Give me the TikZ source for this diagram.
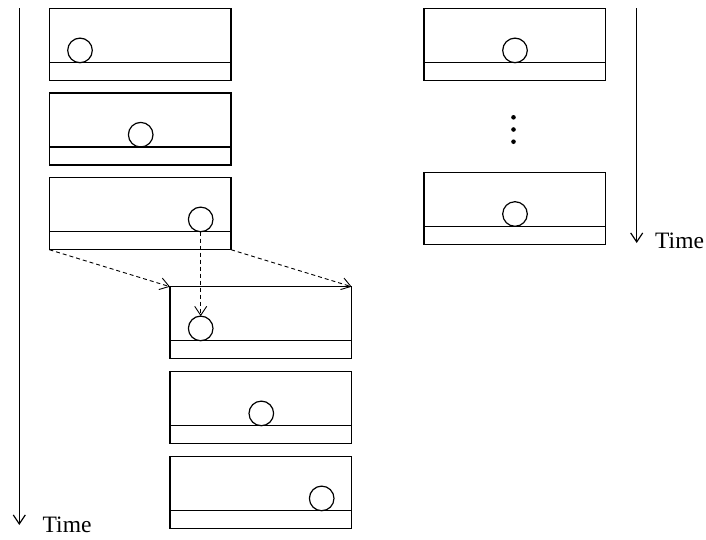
\documentclass[tikz,border=0pt]{standalone}
\usepackage{fontspec}
\setmainfont{Liberation Serif}
\usetikzlibrary{arrows.meta}
\begin{document}
\begin{tikzpicture}[x=1pt,y=-1pt,
  frame/.style={draw,line width=1.2pt,rectangle,minimum width=181.7pt,minimum height=72pt,inner sep=0pt,outer sep=0pt},
  ball/.style={draw,line width=1.2pt,circle,minimum size=24.6pt,inner sep=0pt,outer sep=0pt},
  sep/.style={line width=1.2pt},
  dot/.style={circle,fill,inner sep=0pt,minimum size=4.6pt},
  timeax/.style={line width=1.2pt,-{Straight Barb[length=9pt,width=12pt]}},
  copyarrow/.style={line width=0.9pt,dash pattern=on 4pt off 3pt,-{Straight Barb[length=9pt,width=12pt]}},
  lbl/.style={font=\fontsize{23.5}{28}\selectfont,inner sep=0pt,anchor=base west}]
\useasboundingbox (0,0) rectangle (706,539);
% left column boxes
\node[frame] (b1) at (140.2,44.7) {};
\node[frame] (b2) at (140.2,129) {};
\node[frame] (b3) at (140.2,213.7) {};
% bottom column
\node[frame] (b4) at (260.8,322.7) {};
\node[frame] (b5) at (260.8,407.7) {};
\node[frame] (b6) at (260.8,492.7) {};
% right column
\node[frame] (r1) at (514.8,44.7) {};
\node[frame] (r2) at (514.8,208.3) {};
% separator lines
\foreach \b in {b1,b2,b3,b4,b5,b6,r1,r2}{
  \draw[sep] ([yshift=-54pt]\b.north west) -- ([yshift=-54pt]\b.north east);
}
% balls
\node[ball] (c1) at (80,50.4) {};
\node[ball] (c2) at (140.7,134.7) {};
\node[ball] (c3) at (200.7,219.4) {};
\node[ball] (c4) at (200.7,328.4) {};
\node[ball] (c5) at (261.3,413.4) {};
\node[ball] (c6) at (321.7,498.4) {};
\node[ball] (d1) at (515,50.4) {};
\node[ball] (d2) at (515,214) {};
% dots
\node[dot] (p1) at (513.5,117.3) {};
\node[dot] (p2) at (513.5,129.5) {};
\node[dot] (p3) at (513.5,141.7) {};
% time axes
\coordinate (t1s) at (19.3,8);
\coordinate (t1e) at (19.3,525);
\draw[timeax] (t1s) -- (t1e);
\node[lbl] (tl1) at (42.5,532) {Time};
\coordinate (t2s) at (636.7,8);
\coordinate (t2e) at (636.7,243);
\draw[timeax] (t2s) -- (t2e);
\node[lbl] (tl2) at (655,248.5) {Time};
% copy arrows
\draw[copyarrow] (b3.south west) -- (b4.north west);
\draw[copyarrow] (b3.south east) -- (b4.north east);
\draw[copyarrow] (c3.south) -- (c4.north);
\end{tikzpicture}
\end{document}
